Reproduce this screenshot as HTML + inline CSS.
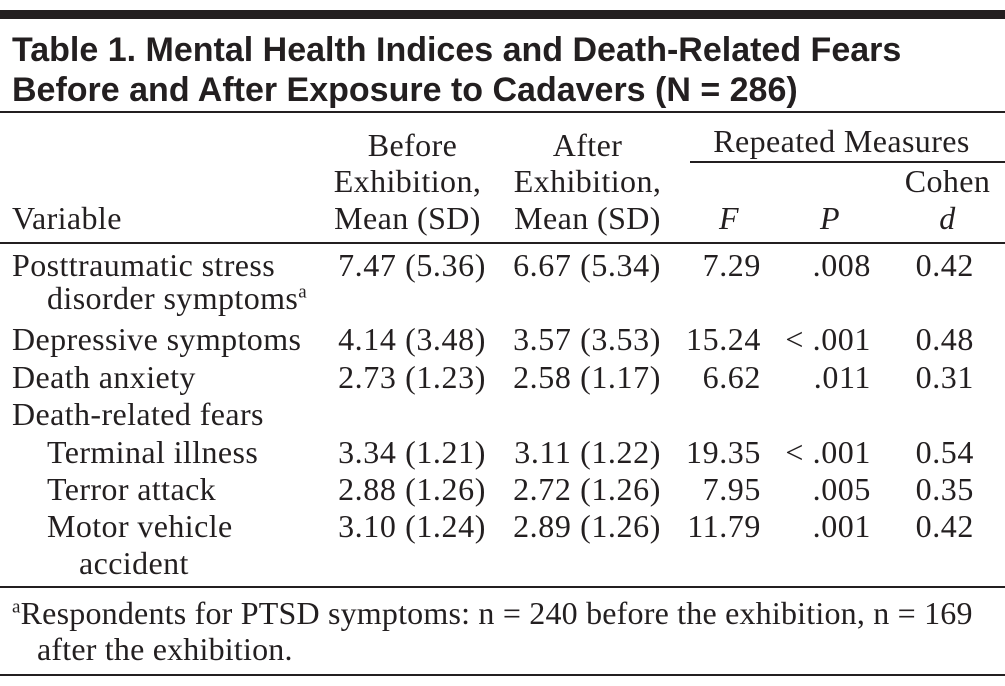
<!DOCTYPE html>
<html><head><meta charset="utf-8"><style>
body{margin:0;background:#fff;}
#t{position:relative;width:1005px;height:686px;overflow:hidden;background:#fff;color:#231f20;font-family:"Liberation Serif",serif;font-size:32px;letter-spacing:0.4px;}
#t div{position:absolute;line-height:30px;white-space:nowrap;}
.r{text-align:right;letter-spacing:0.6px;}
.c{text-align:center;}
.h{background:#231f20;height:2px;}
.ti{font-family:"Liberation Sans",sans-serif;font-weight:bold;font-size:34px !important;line-height:36px !important;letter-spacing:0 !important;}
sup{font-size:19px;line-height:0;}
</style></head><body>
<div id="t">
<div class="h" style="left:0;top:10px;width:1005px;height:9px"></div>
<div class="ti" style="left:12px;top:32px">Table 1. Mental Health Indices and Death-Related Fears</div>
<div class="ti" style="left:12px;top:72px">Before and After Exposure to Cadavers (N = 286)</div>
<div class="h" style="left:0;top:111px;width:1005px"></div>

<div class="c" style="left:330px;width:165px;top:130px">Before</div>
<div class="c" style="left:320px;width:175px;top:166px">Exhibition,</div>
<div class="c" style="left:320px;width:175px;top:203px">Mean (SD)</div>
<div class="c" style="left:505px;width:165px;top:130px">After</div>
<div class="c" style="left:500px;width:175px;top:166px">Exhibition,</div>
<div class="c" style="left:500px;width:175px;top:203px">Mean (SD)</div>
<div class="c" style="left:690px;width:303px;top:126px">Repeated Measures</div>
<div class="h" style="left:690px;top:161px;width:315px;height:1.5px"></div>
<div style="left:12px;top:203px">Variable</div>
<div style="left:719px;top:203px;font-style:italic">F</div>
<div style="left:820px;top:203px;font-style:italic">P</div>
<div class="c" style="left:900px;width:95px;top:166px">Cohen</div>
<div class="c" style="left:900px;width:95px;top:203px;font-style:italic">d</div>
<div class="h" style="left:0;top:242px;width:1005px"></div>

<div style="left:12px;top:250px">Posttraumatic stress</div>
<div style="left:47px;top:283px">disorder symptoms<sup>a</sup></div>
<div class="r" style="left:300px;width:186px;top:250px">7.47 (5.36)</div>
<div class="r" style="left:480px;width:181px;top:250px">6.67 (5.34)</div>
<div class="r" style="left:660px;width:101px;top:250px">7.29</div>
<div class="r" style="left:780px;width:91px;top:250px">.008</div>
<div class="r" style="left:880px;width:94px;top:250px">0.42</div>

<div style="left:12px;top:324px">Depressive symptoms</div>
<div class="r" style="left:300px;width:186px;top:324px">4.14 (3.48)</div>
<div class="r" style="left:480px;width:181px;top:324px">3.57 (3.53)</div>
<div class="r" style="left:660px;width:101px;top:324px">15.24</div>
<div class="r" style="left:780px;width:91px;top:324px">&lt; .001</div>
<div class="r" style="left:880px;width:94px;top:324px">0.48</div>

<div style="left:12px;top:362px">Death anxiety</div>
<div class="r" style="left:300px;width:186px;top:362px">2.73 (1.23)</div>
<div class="r" style="left:480px;width:181px;top:362px">2.58 (1.17)</div>
<div class="r" style="left:660px;width:101px;top:362px">6.62</div>
<div class="r" style="left:780px;width:91px;top:362px">.011</div>
<div class="r" style="left:880px;width:94px;top:362px">0.31</div>

<div style="left:12px;top:399px">Death-related fears</div>

<div style="left:47px;top:437px">Terminal illness</div>
<div class="r" style="left:300px;width:186px;top:437px">3.34 (1.21)</div>
<div class="r" style="left:480px;width:181px;top:437px">3.11 (1.22)</div>
<div class="r" style="left:660px;width:101px;top:437px">19.35</div>
<div class="r" style="left:780px;width:91px;top:437px">&lt; .001</div>
<div class="r" style="left:880px;width:94px;top:437px">0.54</div>

<div style="left:47px;top:474px">Terror attack</div>
<div class="r" style="left:300px;width:186px;top:474px">2.88 (1.26)</div>
<div class="r" style="left:480px;width:181px;top:474px">2.72 (1.26)</div>
<div class="r" style="left:660px;width:101px;top:474px">7.95</div>
<div class="r" style="left:780px;width:91px;top:474px">.005</div>
<div class="r" style="left:880px;width:94px;top:474px">0.35</div>

<div style="left:47px;top:511px">Motor vehicle</div>
<div style="left:79px;top:548px">accident</div>
<div class="r" style="left:300px;width:186px;top:511px">3.10 (1.24)</div>
<div class="r" style="left:480px;width:181px;top:511px">2.89 (1.26)</div>
<div class="r" style="left:660px;width:101px;top:511px">11.79</div>
<div class="r" style="left:780px;width:91px;top:511px">.001</div>
<div class="r" style="left:880px;width:94px;top:511px">0.42</div>

<div class="h" style="left:0;top:586px;width:1005px"></div>
<div style="left:12px;top:598px;letter-spacing:0.2px"><sup>a</sup>Respondents for PTSD symptoms: n = 240 before the exhibition, n = 169</div>
<div style="left:37px;top:634px;letter-spacing:0.2px">after the exhibition.</div>
<div class="h" style="left:0;top:674px;width:1005px"></div>
</div>
</body></html>
